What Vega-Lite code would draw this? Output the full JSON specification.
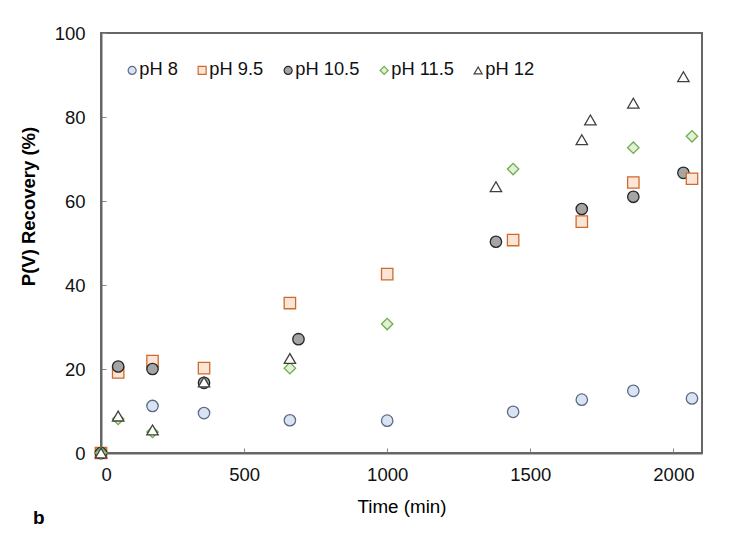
{
  "$schema": "https://vega.github.io/schema/vega-lite/v6.json",
  "autosize": "none",
  "width": 601,
  "height": 420,
  "padding": {"left": 101, "top": 33, "right": 31, "bottom": 98},
  "background": "white",
  "title": {"text": "b", "orient": "bottom", "anchor": "start", "frame": "group", "align": "left", "dx": -68, "offset": -7, "fontSize": 19, "fontWeight": "bold", "font": "Liberation Sans", "color": "#000"},
  "config": {
    "font": "Liberation Sans",
    "view": {"stroke": "#666", "strokeWidth": 2},
    "axis": {"grid": false, "domainColor": "#666", "domainWidth": 2, "tickColor": "#888", "tickWidth": 1, "labelFont": "Liberation Sans", "labelFontSize": 18.5, "labelColor": "#111", "titleFont": "Liberation Sans", "titleColor": "#000"},
    "legend": {"orient": "none", "legendX": 22, "legendY": 28, "direction": "horizontal", "padding": 0, "labelFont": "Liberation Sans", "labelFontSize": 18.3, "labelColor": "#111", "symbolSize": 64, "symbolStrokeWidth": 1.2, "columnPadding": 15, "labelOffset": -2, "symbolOpacity": 1}
  },
  "data": {"values": [
    {"t": 0, "r": 0, "pH": "pH 8"},
    {"t": 180, "r": 11.2, "pH": "pH 8"},
    {"t": 360, "r": 9.5, "pH": "pH 8"},
    {"t": 660, "r": 7.8, "pH": "pH 8"},
    {"t": 1000, "r": 7.7, "pH": "pH 8"},
    {"t": 1440, "r": 9.8, "pH": "pH 8"},
    {"t": 1680, "r": 12.7, "pH": "pH 8"},
    {"t": 1860, "r": 14.8, "pH": "pH 8"},
    {"t": 2065, "r": 13.0, "pH": "pH 8"},
    {"t": 0, "r": 0, "pH": "pH 9.5"},
    {"t": 60, "r": 19.2, "pH": "pH 9.5"},
    {"t": 180, "r": 21.9, "pH": "pH 9.5"},
    {"t": 360, "r": 20.2, "pH": "pH 9.5"},
    {"t": 660, "r": 35.7, "pH": "pH 9.5"},
    {"t": 1000, "r": 42.6, "pH": "pH 9.5"},
    {"t": 1440, "r": 50.7, "pH": "pH 9.5"},
    {"t": 1680, "r": 55.1, "pH": "pH 9.5"},
    {"t": 1860, "r": 64.4, "pH": "pH 9.5"},
    {"t": 2065, "r": 65.3, "pH": "pH 9.5"},
    {"t": 0, "r": 0, "pH": "pH 10.5"},
    {"t": 60, "r": 20.6, "pH": "pH 10.5"},
    {"t": 180, "r": 20.0, "pH": "pH 10.5"},
    {"t": 360, "r": 16.7, "pH": "pH 10.5"},
    {"t": 690, "r": 27.1, "pH": "pH 10.5"},
    {"t": 1380, "r": 50.3, "pH": "pH 10.5"},
    {"t": 1680, "r": 58.1, "pH": "pH 10.5"},
    {"t": 1860, "r": 61.0, "pH": "pH 10.5"},
    {"t": 2035, "r": 66.7, "pH": "pH 10.5"},
    {"t": 0, "r": 0, "pH": "pH 11.5"},
    {"t": 60, "r": 8.1, "pH": "pH 11.5"},
    {"t": 180, "r": 5.0, "pH": "pH 11.5"},
    {"t": 660, "r": 20.2, "pH": "pH 11.5"},
    {"t": 1000, "r": 30.7, "pH": "pH 11.5"},
    {"t": 1440, "r": 67.6, "pH": "pH 11.5"},
    {"t": 1860, "r": 72.7, "pH": "pH 11.5"},
    {"t": 2065, "r": 75.4, "pH": "pH 11.5"},
    {"t": 0, "r": 0, "pH": "pH 12"},
    {"t": 60, "r": 8.8, "pH": "pH 12"},
    {"t": 180, "r": 5.5, "pH": "pH 12"},
    {"t": 360, "r": 16.9, "pH": "pH 12"},
    {"t": 660, "r": 22.5, "pH": "pH 12"},
    {"t": 1380, "r": 63.4, "pH": "pH 12"},
    {"t": 1680, "r": 74.6, "pH": "pH 12"},
    {"t": 1710, "r": 79.3, "pH": "pH 12"},
    {"t": 1860, "r": 83.3, "pH": "pH 12"},
    {"t": 2035, "r": 89.6, "pH": "pH 12"}
  ]},
  "mark": {"type": "point", "size": 130, "strokeWidth": 1.3, "opacity": 1},
  "encoding": {
    "x": {"field": "t", "type": "quantitative", "title": "Time (min)",
      "scale": {"domain": [0, 2100], "nice": false, "zero": false},
      "axis": {"values": [0, 500, 1000, 1500, 2000], "format": "d", "tickSize": -5, "labelPadding": 17, "titleFontSize": 18.8, "titleFontWeight": "normal", "titlePadding": 14}},
    "y": {"field": "r", "type": "quantitative", "title": "P(V) Recovery (%)",
      "scale": {"domain": [0, 100], "nice": false},
      "axis": {"values": [0, 20, 40, 60, 80, 100], "tickSize": -5, "labelPadding": 21, "titleFontSize": 18.5, "titleFontWeight": "bold", "titleY": 173, "titlePadding": 16}},
    "shape": {"field": "pH", "type": "nominal", "title": null,
      "scale": {"domain": ["pH 8", "pH 9.5", "pH 10.5", "pH 11.5", "pH 12"], "range": ["circle", "square", "circle", "diamond", "triangle-up"]}},
    "fill": {"field": "pH", "type": "nominal", "title": null,
      "scale": {"domain": ["pH 8", "pH 9.5", "pH 10.5", "pH 11.5", "pH 12"], "range": ["#dae3f3", "#fbe5d6", "#a5a5a5", "#e2f0d9", "#ffffff"]}},
    "stroke": {"field": "pH", "type": "nominal", "title": null,
      "scale": {"domain": ["pH 8", "pH 9.5", "pH 10.5", "pH 11.5", "pH 12"], "range": ["#5a6b82", "#d06a2b", "#262626", "#70ad47", "#404040"]}},
    "order": {"field": "t", "type": "quantitative"}
  }
}
